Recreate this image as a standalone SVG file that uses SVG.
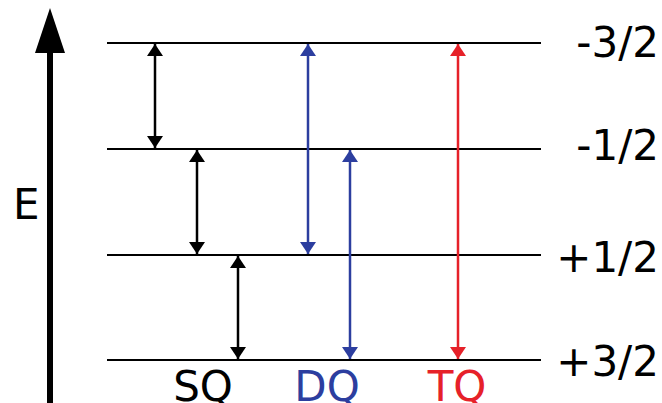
<svg xmlns="http://www.w3.org/2000/svg" width="662" height="403" viewBox="0 0 662 403">
  <style>
    .lbl { font-family: "DejaVu Sans", "Liberation Sans", sans-serif; font-size: 42px; }
    .level { stroke: #000; stroke-width: 2; }
    .sq { stroke: #000; stroke-width: 2.5; fill: none; }
    .dq { stroke: #2c3e9f; stroke-width: 2.5; fill: none; }
    .tq { stroke: #e62129; stroke-width: 2.5; fill: none; }
  </style>
  <defs>
    <marker id="headK" viewBox="0 0 12 16" refX="12" refY="8" markerWidth="12" markerHeight="16" markerUnits="userSpaceOnUse" orient="auto-start-reverse">
      <path d="M0,0 L12,8 L0,16 z" fill="#000"/>
    </marker>
    <marker id="headB" viewBox="0 0 12 16" refX="12" refY="8" markerWidth="12" markerHeight="16" markerUnits="userSpaceOnUse" orient="auto-start-reverse">
      <path d="M0,0 L12,8 L0,16 z" fill="#2c3e9f"/>
    </marker>
    <marker id="headR" viewBox="0 0 12 16" refX="12" refY="8" markerWidth="12" markerHeight="16" markerUnits="userSpaceOnUse" orient="auto-start-reverse">
      <path d="M0,0 L12,8 L0,16 z" fill="#e62129"/>
    </marker>
  </defs>

  <!-- energy axis -->
  <g id="axis">
    <rect x="47" y="50" width="6" height="353" fill="#000"/>
    <polygon points="50,8 65,53 35,53" fill="#000"/>
    <text class="lbl" x="13" y="219">E</text>
  </g>

  <!-- spin levels -->
  <g id="level-m3">
    <line class="level" x1="107" y1="43" x2="541" y2="43"/>
    <text class="lbl" x="659" y="57" text-anchor="end">-3/2</text>
  </g>
  <g id="level-m1">
    <line class="level" x1="107" y1="149" x2="541" y2="149"/>
    <text class="lbl" x="659" y="160" text-anchor="end">-1/2</text>
  </g>
  <g id="level-p1">
    <line class="level" x1="107" y1="255" x2="541" y2="255"/>
    <text class="lbl" x="659" y="272" text-anchor="end">+1/2</text>
  </g>
  <g id="level-p3">
    <line class="level" x1="107" y1="360" x2="541" y2="360"/>
    <text class="lbl" x="659" y="376" text-anchor="end">+3/2</text>
  </g>

  <!-- transitions -->
  <g id="transitions">
    <line class="sq" x1="155" y1="44" x2="155" y2="148" marker-start="url(#headK)" marker-end="url(#headK)"/>
    <line class="sq" x1="197" y1="150" x2="197" y2="254" marker-start="url(#headK)" marker-end="url(#headK)"/>
    <line class="sq" x1="238" y1="256" x2="238" y2="359" marker-start="url(#headK)" marker-end="url(#headK)"/>
    <line class="dq" x1="308" y1="44" x2="308" y2="254" marker-start="url(#headB)" marker-end="url(#headB)"/>
    <line class="dq" x1="350" y1="150" x2="350" y2="359" marker-start="url(#headB)" marker-end="url(#headB)"/>
    <line class="tq" x1="458" y1="44" x2="458" y2="359" marker-start="url(#headR)" marker-end="url(#headR)"/>
  </g>

  <!-- transition group labels -->
  <g id="labels">
    <text class="lbl" x="203" y="401" text-anchor="middle" fill="#000">SQ</text>
    <text class="lbl" x="327" y="401" text-anchor="middle" fill="#2c3e9f">DQ</text>
    <text class="lbl" x="457" y="401" text-anchor="middle" fill="#e62129">TQ</text>
  </g>
</svg>
